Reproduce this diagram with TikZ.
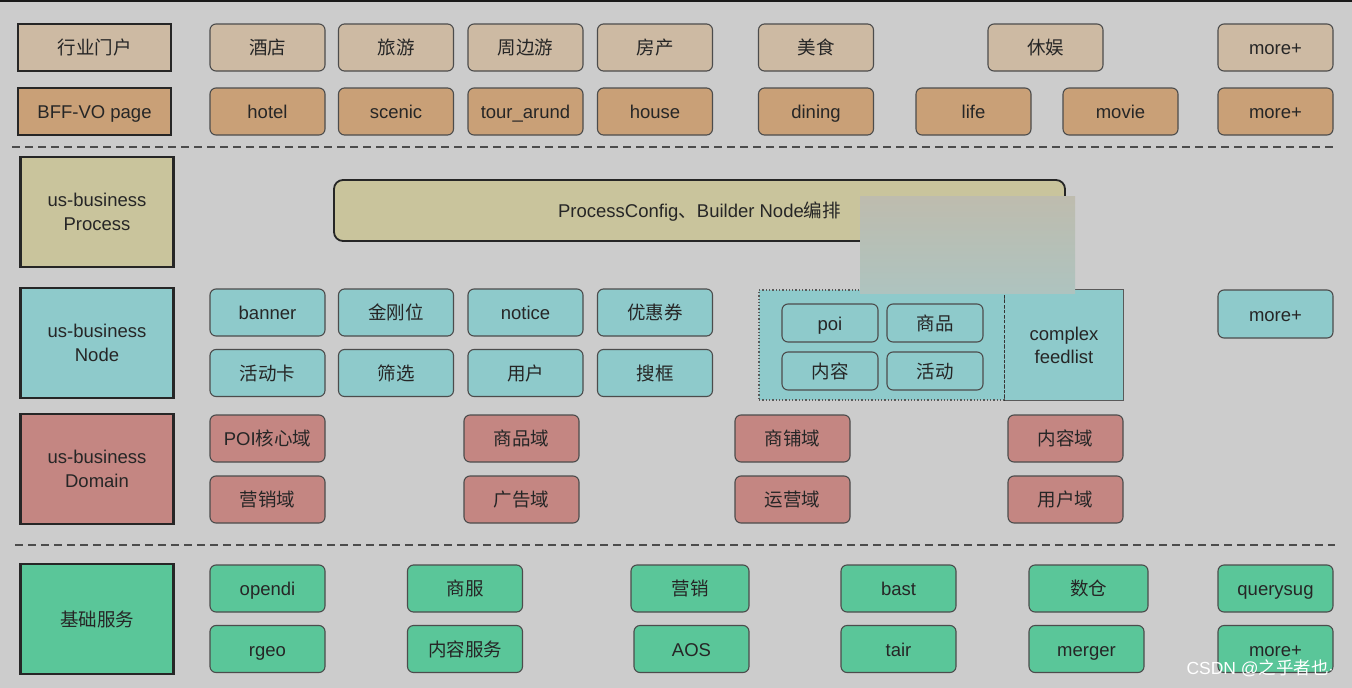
\documentclass[tikz,border=0pt]{standalone}
\usepackage{fontspec}
\setmainfont{Liberation Sans}
\newfontfamily\cjk{Noto Sans CJK SC}
\newcommand\zh[1]{{\cjk #1}}
\definecolor{bg-grey}{HTML}{CCCCCC}
\definecolor{portal-tan}{HTML}{CDBAA3}
\definecolor{vo-tan}{HTML}{C9A077}
\definecolor{proc-khaki}{HTML}{C9C49C}
\definecolor{node-teal}{HTML}{8ECACB}
\definecolor{domain-red}{HTML}{C48682}
\definecolor{base-green}{HTML}{5AC699}
\definecolor{patch-top}{HTML}{BEBCAE}
\definecolor{patch-bottom}{HTML}{AEC3BF}
\tikzset{
    layer-box/.style = {draw=black!85, line width=2.2pt, minimum width=153pt, minimum height=110pt, align=center, text=black!85, font=\fontsize{18.5}{24}\selectfont},
    cell-box/.style = {draw=black!70, line width=1.1pt, rounded corners=6pt, minimum width=115pt, minimum height=47pt, text height=17pt, text depth=2.5pt, text=black!85, font=\fontsize{18.5}{22}\selectfont},
    sep-line/.style = {draw=black!70, line width=2pt, dash pattern=on 8pt off 5pt},
}

\begin{document}
\begin{tikzpicture}[x=1pt, y=-1pt]
\fill[bg-grey] (0,0) rectangle (1352,688);
\useasboundingbox (0,0) rectangle (1352,688);
\draw[line width=2pt, black!90] (0,1) -- (1352,1);

% top two rows: portal and BFF pages
\node[cell-box, draw=black!85, line width=2.2pt, rounded corners=0pt, minimum width=153pt, fill=portal-tan] (portal) at (94.5,47.5) {\zh{行业门户}};
\node[cell-box, draw=black!85, line width=2.2pt, rounded corners=0pt, minimum width=153pt, fill=vo-tan] (vo) at (94.5,111.5) {BFF-VO page};
\foreach \x/\t [count=\i] in {267.5/\zh{酒店}, 396/\zh{旅游}, 525.5/\zh{周边游}, 655/\zh{房产}, 816/\zh{美食}, 1045.5/\zh{休娱}, 1275.5/more+}
    \node[cell-box, fill=portal-tan] (portal-\i) at (\x,47.5) {\t};
\foreach \x/\t [count=\i] in {267.5/hotel, 396/scenic, 525.5/tour\_arund, 655/house, 816/dining, 973.5/life, 1120.5/movie, 1275.5/more+}
    \node[cell-box, fill=vo-tan] (vo-\i) at (\x,111.5) {\t};

\coordinate (sep-a-w) at (12,147);
\coordinate (sep-a-e) at (1335,147);
\draw[sep-line] (sep-a-w) -- (sep-a-e);

% process layer
\node[layer-box, fill=proc-khaki] (process) at (97,212) {us-business\\Process};
\node[cell-box, fill=proc-khaki, draw=black!85, line width=1.8pt, rounded corners=9pt, minimum width=731pt, minimum height=61pt] (builder) at (699.5,210.5) {ProcessConfig\zh{、}Builder Node\zh{编排}};

% node layer
\node[layer-box, fill=node-teal] (node) at (97,343) {us-business\\Node};
\foreach \x/\t/\s [count=\i] in {267.5/banner/\zh{活动卡}, 396/\zh{金刚位}/\zh{筛选}, 525.5/notice/\zh{用户}, 655/\zh{优惠券}/\zh{搜框}} {
    \node[cell-box, fill=node-teal] (node-a\i) at (\x,312.5) {\t};
    \node[cell-box, fill=node-teal] (node-b\i) at (\x,373) {\s};
}
\node[fill=node-teal, draw=black!65, dotted, line width=1.3pt, minimum width=246pt, minimum height=110pt] (cards) at (882,345) {};
\node[fill=node-teal, minimum width=118pt, minimum height=110pt, align=center, text=black!85, font=\fontsize{18.5}{23}\selectfont] (feedlist) at (1064,345) {complex\\feedlist};
\draw[black!65, line width=1.3pt] (feedlist.north west) -- (feedlist.north east) -- (feedlist.south east) -- (feedlist.south west);
\draw[black!80, line width=1.1pt, densely dashed] (feedlist.north west) -- (feedlist.south west);
\node[cell-box, fill=node-teal, minimum width=96pt, minimum height=38pt] (card-poi) at (830,323) {poi};
\node[cell-box, fill=node-teal, minimum width=96pt, minimum height=38pt] (card-goods) at (935,323) {\zh{商品}};
\node[cell-box, fill=node-teal, minimum width=96pt, minimum height=38pt] (card-content) at (830,371) {\zh{内容}};
\node[cell-box, fill=node-teal, minimum width=96pt, minimum height=38pt] (card-event) at (935,371) {\zh{活动}};
\node[cell-box, fill=node-teal, minimum height=48pt] (node-more) at (1275.5,314) {more+};

% domain layer
\node[layer-box, fill=domain-red] (domain) at (97,469) {us-business\\Domain};
\foreach \x/\t/\s [count=\i] in {267.5/POI\zh{核心域}/\zh{营销域}, 521.5/\zh{商品域}/\zh{广告域}, 792.5/\zh{商铺域}/\zh{运营域}, 1065.5/\zh{内容域}/\zh{用户域}} {
    \node[cell-box, fill=domain-red] (domain-a\i) at (\x,438.5) {\t};
    \node[cell-box, fill=domain-red] (domain-b\i) at (\x,499.5) {\s};
}

\coordinate (sep-b-w) at (15,545);
\coordinate (sep-b-e) at (1335,545);
\draw[sep-line] (sep-b-w) -- (sep-b-e);

% base services
\node[layer-box, fill=base-green] (base) at (97,619) {\zh{基础服务}};
\foreach \x/\w/\t [count=\i] in {267.5/115/opendi, 465/115/\zh{商服}, 690/118/\zh{营销}, 898.5/115/bast, 1088.5/119/\zh{数仓}, 1275.5/115/querysug}
    \node[cell-box, fill=base-green, minimum width=\w pt] (base-a\i) at (\x,588.5) {\t};
\foreach \x/\t [count=\i] in {267.5/rgeo, 465/\zh{内容服务}, 691.5/AOS, 898.5/tair, 1086.5/merger, 1275.5/more+}
    \node[cell-box, fill=base-green] (base-b\i) at (\x,649) {\t};

% pasted patch and watermark
\shade[top color=patch-top, bottom color=patch-bottom] (860,196) rectangle (1075,293);
\node[text=white, font=\fontsize{17.5}{20}\selectfont] (mark) at (1260,668) {CSDN @\zh{之乎者也}$\cdot$};
\end{tikzpicture}
\end{document}
